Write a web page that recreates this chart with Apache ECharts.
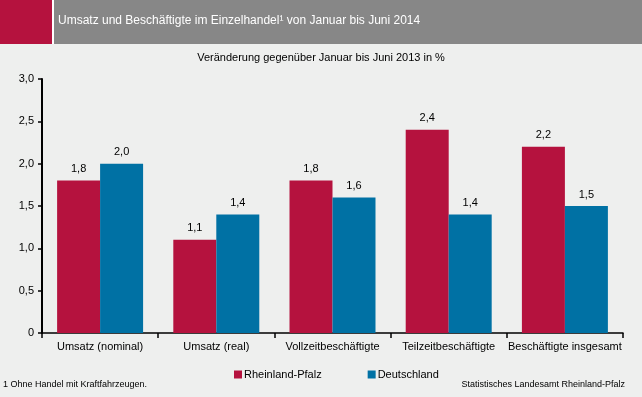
<!DOCTYPE html>
<html>
<head>
<meta charset="utf-8">
<script src="https://cdn.jsdelivr.net/npm/echarts@6/dist/echarts.min.js"></script>
<style>
  html, body { margin: 0; padding: 0; background: #eeefee; }
  #chart { width: 642px; height: 397px; }
</style>
</head>
<body>
<div id="chart"></div>
<script>
// Daten
var categories = ['Umsatz (nominal)', 'Umsatz (real)', 'Vollzeitbeschäftigte', 'Teilzeitbeschäftigte', 'Beschäftigte insgesamt'];
var rlp = [1.8, 1.1, 1.8, 2.4, 2.2];
var de = [2.0, 1.4, 1.6, 1.4, 1.5];
var seriesNames = ['Rheinland-Pfalz', 'Deutschland'];

var fmt = function (v) { return v.toFixed(1).replace('.', ','); };
var font = "'Liberation Sans', Arial, sans-serif";

var myChart = echarts.init(document.getElementById('chart'));
var option = {
    backgroundColor: '#eeefee',
    animation: false,
    graphic: [
        { type: 'rect', left: 0, top: 0, shape: { width: 642, height: 44 }, style: { fill: '#878787' } },
        { type: 'rect', left: 0, top: 0, shape: { width: 52, height: 44 }, style: { fill: '#b5123e' } },
        { type: 'rect', left: 52, top: 0, shape: { width: 2, height: 44 }, style: { fill: '#ffffff' } },
        {
            type: 'text', left: 58, top: 15,
            style: { text: 'Umsatz und Beschäftigte im Einzelhandel¹ von Januar bis Juni 2014', fill: '#ffffff', font: '12px ' + font }
        },
        {
            type: 'text', left: 'center', top: 52,
            style: { text: 'Veränderung gegenüber Januar bis Juni 2013 in %', fill: '#000000', font: '11px ' + font }
        },
        {
            type: 'text', left: 3, top: 380,
            style: { text: '1 Ohne Handel mit Kraftfahrzeugen.', fill: '#000000', font: '9px ' + font }
        },
        {
            type: 'text', right: 17, top: 380,
            style: { text: 'Statistisches Landesamt Rheinland-Pfalz', fill: '#000000', font: '9px ' + font }
        }
    ],
    legend: {
        data: seriesNames,
        top: 364,
        left: 229,
        itemWidth: 8,
        itemHeight: 8,
        itemGap: 46,
        icon: 'rect',
        textStyle: { color: '#000', fontSize: 11, fontFamily: font, padding: [0, 0, 0, -3] }
    },
    grid: { left: 42, right: 19, top: 79, bottom: 64, containLabel: false },
    xAxis: {
        type: 'category',
        data: categories,
        axisLine: { lineStyle: { color: '#000', width: 1.5 } },
        axisTick: { show: true, length: 5, lineStyle: { color: '#000', width: 1.5 } },
        axisLabel: { interval: 0, color: '#000', fontSize: 11, fontFamily: font, margin: 8 }
    },
    yAxis: {
        type: 'value',
        min: 0,
        max: 3,
        interval: 0.5,
        axisLine: { show: true, lineStyle: { color: '#000', width: 2 } },
        axisTick: { show: true, length: 4, lineStyle: { color: '#000', width: 1.5 } },
        splitLine: { show: false },
        axisLabel: {
            color: '#000', fontSize: 11, fontFamily: font, margin: 8,
            formatter: function (v) { return v === 0 ? '0' : fmt(v); }
        }
    },
    series: [
        {
            name: seriesNames[0], type: 'bar', data: rlp,
            barGap: '0%', barCategoryGap: '26%',
            itemStyle: { color: '#b5123e' },
            label: { show: true, position: 'top', color: '#000', fontSize: 11, fontFamily: font, distance: 6, formatter: function (p) { return fmt(p.value); } }
        },
        {
            name: seriesNames[1], type: 'bar', data: de,
            barGap: '0%', barCategoryGap: '26%',
            itemStyle: { color: '#0071a4' },
            label: { show: true, position: 'top', color: '#000', fontSize: 11, fontFamily: font, distance: 6, formatter: function (p) { return fmt(p.value); } }
        }
    ]
};
myChart.setOption(option, true);
</script>
</body>
</html>
